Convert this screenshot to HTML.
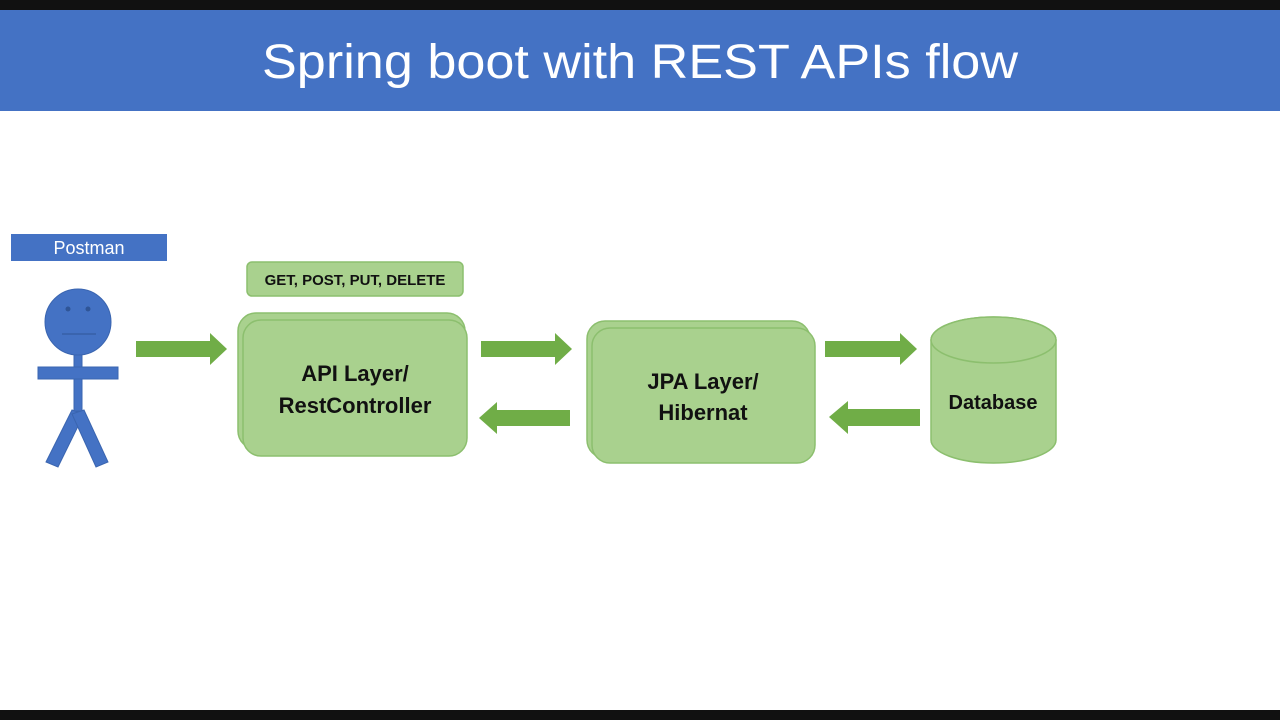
<!DOCTYPE html>
<html><head><style>html,body{margin:0;padding:0;background:#fff}</style></head><body>
<svg width="1280" height="720" xmlns="http://www.w3.org/2000/svg" font-family="Liberation Sans, sans-serif">
<rect x="0" y="0" width="1280" height="720" fill="#fff"/>
<rect x="0" y="0" width="1280" height="10" fill="#111"/>
<rect x="0" y="710" width="1280" height="10" fill="#111"/>
<rect x="0" y="10" width="1280" height="101" fill="#4472C4"/>
<text x="262" y="78" font-size="48" fill="#fff" textLength="756" lengthAdjust="spacingAndGlyphs">Spring boot with REST APIs flow</text>
<rect x="11" y="234" width="156" height="27" fill="#4472C4"/>
<text x="89" y="254" font-size="18" fill="#fff" text-anchor="middle">Postman</text>
<g fill="#4472C4" stroke="#3a65b0">
<circle cx="78" cy="322" r="33"/>
<rect x="74" y="355" width="8" height="56"/>
<rect x="38" y="367" width="80" height="12"/>
<polygon points="72,410 84,414 58,467 46,462"/>
<polygon points="72,414 84,410 108,462 96,467"/>
</g>
<circle cx="68" cy="309" r="2.5" fill="#2f5597"/><circle cx="88" cy="309" r="2.5" fill="#2f5597"/>
<line x1="62" y1="334" x2="96" y2="334" stroke="#2f5597" stroke-width="1"/>
<g fill="#70AD47">
<polygon points="136,341 210,341 210,333 227,349 210,365 210,357 136,357"/>
<polygon points="481,341 555,341 555,333 572,349 555,365 555,357 481,357"/>
<polygon points="570,410 497,410 497,402 479,418 497,434 497,426 570,426"/>
<polygon points="825,341 900,341 900,333 917,349 900,365 900,357 825,357"/>
<polygon points="920,409 848,409 848,401 829,417 848,434 848,426 920,426"/>
</g>
<g fill="#A9D18E" stroke="#8CBF6E" stroke-width="1.5">
<rect x="247" y="262" width="216" height="34" rx="5"/>
<rect x="238" y="313" width="227" height="136" rx="18"/>
<rect x="243" y="320" width="224" height="136" rx="18"/>
<rect x="587" y="321" width="223" height="137" rx="18"/>
<rect x="592" y="328" width="223" height="135" rx="18"/>
<path d="M931,340 L931,440 A62.5,23 0 0 0 1056,440 L1056,340 A62.5,23 0 0 0 931,340 Z"/>
<ellipse cx="993.5" cy="340" rx="62.5" ry="23"/>
</g>
<g font-weight="bold" fill="#111" text-anchor="middle">
<text x="355" y="285" font-size="15">GET, POST, PUT, DELETE</text>
<text x="355" y="381" font-size="22">API Layer/</text>
<text x="355" y="413" font-size="22">RestController</text>
<text x="703" y="389" font-size="22">JPA Layer/</text>
<text x="703" y="420" font-size="22">Hibernat</text>
<text x="993" y="409" font-size="20">Database</text>
</g>
</svg>
</body></html>
